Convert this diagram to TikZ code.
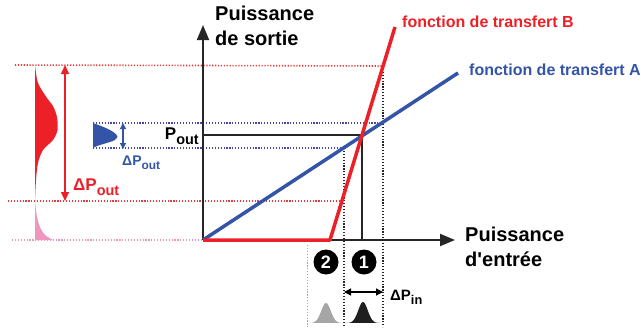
\documentclass[tikz,border=0pt]{standalone}
\usepackage{fontspec}
\setmainfont{Liberation Sans}
\usetikzlibrary{arrows.meta}
\definecolor{trfred}{RGB}{236,32,39}
\definecolor{trfblue}{RGB}{52,84,168}
\definecolor{dotblue}{RGB}{70,70,172}
\definecolor{dotred}{RGB}{236,58,58}
\definecolor{tailpink}{RGB}{238,150,192}
\newcommand\lowsub[1]{\raisebox{-0.3em}{\scalebox{0.85}{#1}}}

\begin{document}
\begin{tikzpicture}[x=1pt, y=-1pt,
    axis/.style={line width=2pt, draw=black!85, -{Triangle[length=15pt,width=12pt]}},
    trf/.style={line width=3.5pt, line join=round},
    guide/.style={line width=1.2pt, draw=black!85},
    dotline/.style={line width=1.6pt, dash pattern=on 1.2pt off 1.7pt},
    axlbl/.style={anchor=north west, inner sep=0pt, align=left, font=\bfseries\fontsize{20}{24.5}\selectfont},
    fnlbl/.style={anchor=north west, inner sep=0pt, font=\bfseries\fontsize{16}{18}\selectfont},
    dlbl/.style={anchor=base west, inner sep=0pt, font=\bfseries\fontsize{16}{18}\selectfont},
    numdisc/.style={circle, fill=black, text=white, minimum size=25pt, inner sep=0pt, font=\bfseries\fontsize{18}{18}\selectfont}]

    \useasboundingbox (0,0) rectangle (643,327);

    \coordinate (O) at (203,240);
    \coordinate (ytip) at (203,25);
    \coordinate (xtip) at (455,240);
    \coordinate (kneeB) at (330,240);
    \coordinate (endB) at (395,27);
    \coordinate (endA) at (458,73);
    \coordinate (work) at (362,135);
    \coordinate (workY) at (203,135);
    \coordinate (workX) at (362,240);
    \coordinate (inLo) at (344,148);
    \coordinate (inLoB) at (344,327);
    \coordinate (inHi) at (383,66);
    \coordinate (inHiB) at (383,327);
    \coordinate (shLo) at (307,245);
    \coordinate (shLoB) at (307,327);

    \draw[dotline, dotred] (15,65) -- (inHi);
    \draw[dotline, dotred] (8,201) -- (342,201);
    \draw[dotline, tailpink] (12,240) -- (O);
    \draw[dotline, dotblue] (93,123) -- (383,123);
    \draw[dotline, dotblue] (93,148) -- (340,148);
    \draw[dotline, black!85, line width=1.8pt] (inLo) -- (inLoB);
    \draw[dotline, black!85, line width=1.8pt] (inHi) -- (inHiB);
    \draw[dotline, black!35, line width=1pt] (shLo) -- (shLoB);

    \fill[trfred] plot[smooth] coordinates {(35,65) (38,83) (47,98) (53,106) (57,117) (57.5,130) (53,140) (43,150) (38,163) (36,180) (35,201)} -- cycle;
    \fill[tailpink] plot[smooth] coordinates {(35,202) (37,217) (40,227) (45,235) (53,240)} -- (35,240) -- cycle;
    \fill[trfblue] plot[smooth] coordinates {(93,123) (101,126) (108,129) (114,132.5) (117.5,136.5) (114,140.5) (105,143.5) (97,146) (93,148)} -- cycle;

    \fill[black!88] plot[domain=-18:18, samples=50, smooth] ({363+\x},{323-21*exp(-(\x*\x)/45)}) -- cycle;
    \fill[black!35] plot[domain=-18:18, samples=50, smooth] ({326+\x},{323-20*exp(-(\x*\x)/45)}) -- cycle;

    \draw[axis] (O) -- (ytip);
    \draw[axis] (O) -- (xtip);
    \draw[guide] (workY) -- (work) -- (workX);

    \draw[trf, trfblue] (O) -- (endA);
    \draw[trf, trfred] (O) -- (kneeB) -- (endB);

    \draw[trfred, line width=1.5pt, {Triangle[length=9pt,width=8pt]}-{Triangle[length=9pt,width=8pt]}] (65,65) -- (65,201);
    \draw[trfblue, line width=1.2pt, {Triangle[length=6pt,width=6pt]}-{Triangle[length=6pt,width=6pt]}] (123,123) -- (123,149);
    \draw[black, line width=1.3pt, {Triangle[length=7pt,width=7pt]}-{Triangle[length=7pt,width=7pt]}] (344,292) -- (383,292);

    \node[axlbl] (ylab) at (215,6) {Puissance\\de sortie};
    \node[axlbl] (xlab) at (465,227) {Puissance\\d\textquotesingle entrée};
    \node[fnlbl, text=trfred] (labB) at (402,16) {fonction de transfert B};
    \node[fnlbl, text=trfblue] (labA) at (469,64) {fonction de transfert A};

    \node[dlbl, anchor=base east, font=\bfseries\fontsize{17}{18}\selectfont] (pout) at (199,139) {P\lowsub{out}};
    \node[dlbl, text=trfred, font=\bfseries\fontsize{17}{18}\selectfont] (dpoutR) at (73,190) {ΔP\lowsub{out}};
    \node[dlbl, text=trfblue, font=\bfseries\fontsize{14}{16}\selectfont] (dpoutB) at (122,165) {ΔP\lowsub{out}};
    \node[dlbl, font=\bfseries\fontsize{15}{16}\selectfont] (dpin) at (390,300) {ΔP\lowsub{in}};

    \node[numdisc] (n2) at (326,262) {2};
    \node[numdisc] (n1) at (364,262) {1};

\end{tikzpicture}
\end{document}
